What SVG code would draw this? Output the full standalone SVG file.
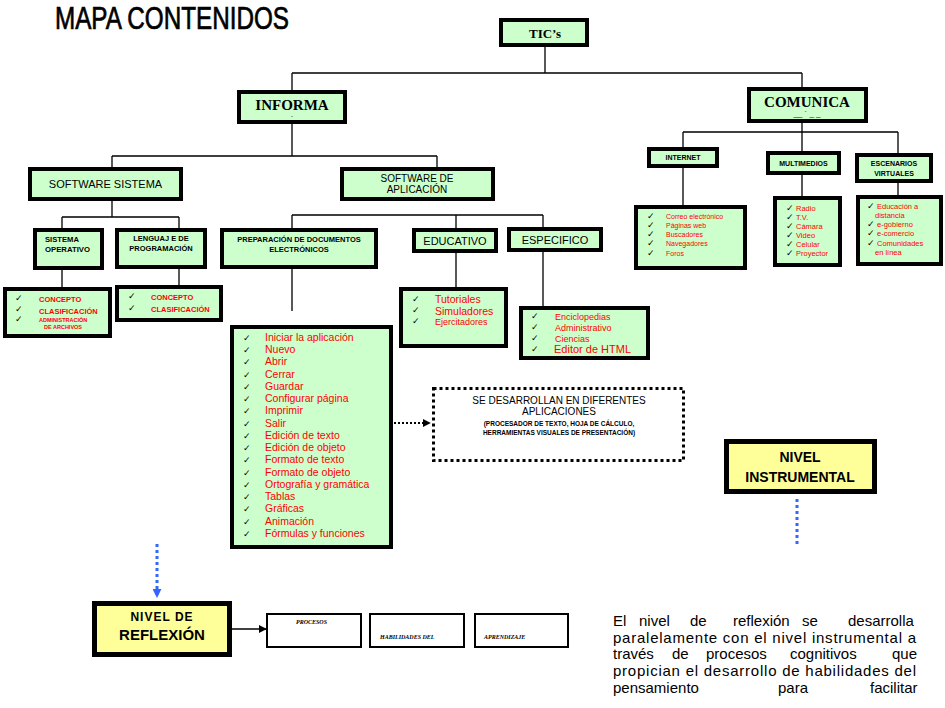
<svg xmlns="http://www.w3.org/2000/svg" width="945" height="708" viewBox="0 0 945 708">
<defs>
<style>
.box{fill:#ccffcc;stroke:#000;stroke-width:4}
.ybox{fill:#ffff99;stroke:#000;stroke-width:5}
.wbox{fill:#fff;stroke:#000;stroke-width:2}
.ln{stroke:#000;stroke-width:1.3;fill:none}
text{font-family:"Liberation Sans",Arial,sans-serif;fill:#000}
.serif{font-family:"Liberation Serif","Times New Roman",serif;font-weight:bold}
.b{font-weight:bold}
.red{fill:#ff0000}
.c{text-anchor:middle}
.chk{font-family:"DejaVu Sans",sans-serif;font-size:9px}
</style>
<marker id="ah" viewBox="0 0 10 10" refX="9" refY="5" markerWidth="8" markerHeight="8" markerUnits="userSpaceOnUse" orient="auto"><path d="M0,0 L10,5 L0,10 z" fill="#000"/></marker>
<marker id="ahb" viewBox="0 0 10 10" refX="9" refY="5" markerWidth="9" markerHeight="9" markerUnits="userSpaceOnUse" orient="auto"><path d="M0,0 L10,5 L0,10 z" fill="#3366ff"/></marker>
</defs>
<rect width="945" height="708" fill="#fff"/>

<text x="55" y="29" font-size="31" textLength="234" lengthAdjust="spacingAndGlyphs" stroke="#000" stroke-width="0.7">MAPA CONTENIDOS</text>

<g id="connectors">
<path class="ln" d="M545 47V73M292 73H802M292 73V90M802 73V87"/>
<path class="ln" d="M292 124V156M112 156H437M112 156V167M437 156V167"/>
<path class="ln" d="M112 201V217M62 217H179M62 217V228M179 217V228M62 270V287M179 269V285"/>
<path class="ln" d="M292 215H543M292 215V228M456 215V228M543 215V227M292 269V311M456 253V287M543 252V306"/>
<path class="ln" d="M802 123V132M683 132H898M683 132V147M802 132V151M898 132V153M683 168V205M802 175V196M898 183V195"/>
<path d="M394 423H430" stroke="#000" stroke-width="2" stroke-dasharray="2,2" fill="none" marker-end="url(#ah)"/>
<path d="M797 499V544" stroke="#3366ff" stroke-width="3" stroke-dasharray="3,3" fill="none"/>
<path d="M157 544V597" stroke="#3366ff" stroke-width="3" stroke-dasharray="3,3" fill="none" marker-end="url(#ahb)"/>
<path d="M232 629H266" stroke="#000" stroke-width="1.3" fill="none" marker-end="url(#ah)"/>
</g>

<g id="tics"><rect class="box" x="501" y="20" width="86" height="25"/><text class="serif c" x="545" y="38" font-size="13">TIC’s</text></g>

<g id="informa"><rect class="box" x="239" y="92" width="106" height="30"/><text class="serif c" x="292" y="110" font-size="15">INFORMA</text><text class="c" x="292" y="118" font-size="6">-</text></g>

<g id="comunica"><rect class="box" x="749" y="89" width="117" height="32"/><text class="serif c" x="807" y="107" font-size="15">COMUNICA</text><text class="c" x="807" y="116" font-size="8">__ ´ _ _</text></g>

<g id="software-sistema"><rect class="box" x="30" y="169" width="151" height="30"/><text class="c" x="105.5" y="188" font-size="11">SOFTWARE SISTEMA</text></g>

<g id="software-aplicacion"><rect class="box" x="342" y="169" width="151" height="30"/><text class="c" x="417" y="182" font-size="10">SOFTWARE DE</text><text class="c" x="417" y="193" font-size="10">APLICACIÓN</text></g>

<g id="sistema-operativo"><rect class="box" x="35" y="230" width="67" height="38"/><text class="b" x="45" y="242" font-size="7" textLength="34" lengthAdjust="spacingAndGlyphs">SISTEMA</text><text class="b" x="45" y="252" font-size="7" textLength="45" lengthAdjust="spacingAndGlyphs">OPERATIVO</text></g>

<g id="lenguaje"><rect class="box" x="117" y="230" width="88" height="37"/><text class="b c" x="161" y="241" font-size="7.5">LENGUAJ E DE</text><text class="b c" x="161" y="251" font-size="7.5">PROGRAMACIÓN</text></g>

<g id="so-lista"><rect class="box" x="5" y="289" width="105" height="47"/>
<text class="chk" x="15" y="301">✓</text><text class="chk" x="15" y="312">✓</text><text class="chk" x="15" y="322">✓</text>
<text class="b red" x="39" y="302" font-size="7.5">CONCEPTO</text>
<text class="b red" x="39" y="314" font-size="7.5">CLASIFICACIÓN</text>
<text class="b red" x="39" y="322" font-size="5.5">ADMINISTRACIÓN</text>
<text class="b red" x="44" y="329" font-size="5.5">DE ARCHIVOS</text></g>

<g id="lp-lista"><rect class="box" x="117" y="287" width="104" height="33"/>
<text class="chk" x="128" y="299">✓</text><text class="chk" x="128" y="311">✓</text>
<text class="b red" x="151" y="300" font-size="7.5">CONCEPTO</text>
<text class="b red" x="151" y="312" font-size="7.5">CLASIFICACIÓN</text></g>

<g id="preparacion"><rect class="box" x="222" y="230" width="154" height="37"/><text class="b c" x="299" y="242" font-size="7.5">PREPARACIÓN DE DOCUMENTOS</text><text class="b c" x="299" y="252" font-size="7.5">ELECTRÓNICOS</text></g>

<g id="educativo"><rect class="box" x="414" y="230" width="82" height="21"/><text class="c" x="455" y="245" font-size="11">EDUCATIVO</text></g>

<g id="especifico"><rect class="box" x="509" y="229" width="92" height="21"/><text class="c" x="555" y="244" font-size="11">ESPECIFICO</text></g>

<g id="edu-lista"><rect class="box" x="401" y="289" width="105" height="57"/>
<text class="chk" x="412" y="302">✓</text><text class="chk" x="412" y="313">✓</text><text class="chk" x="412" y="324">✓</text>
<text class="red" x="435" y="303" font-size="10.5">Tutoriales</text>
<text class="red" x="435" y="315" font-size="10.5">Simuladores</text>
<text class="red" x="435" y="325" font-size="9">Ejercitadores</text></g>

<g id="esp-lista"><rect class="box" x="521" y="308" width="127" height="50"/>
<text class="chk" x="531" y="319">✓</text><text class="chk" x="531" y="330">✓</text><text class="chk" x="531" y="341">✓</text><text class="chk" x="531" y="352">✓</text>
<text class="red" x="555" y="320" font-size="9">Enciclopedias</text>
<text class="red" x="555" y="331" font-size="9">Administrativo</text>
<text class="red" x="555" y="342" font-size="9">Ciencias</text>
<text class="red" x="554" y="353" font-size="11">Editor de HTML</text></g>

<g id="funciones"><rect class="box" x="232" y="327" width="159" height="220"/>
<g class="chk">
<text x="243" y="341">✓</text><text x="243" y="353">✓</text><text x="243" y="365">✓</text><text x="243" y="378">✓</text><text x="243" y="390">✓</text><text x="243" y="402">✓</text><text x="243" y="414">✓</text><text x="243" y="427">✓</text><text x="243" y="439">✓</text><text x="243" y="451">✓</text><text x="243" y="463">✓</text><text x="243" y="476">✓</text><text x="243" y="488">✓</text><text x="243" y="500">✓</text><text x="243" y="512">✓</text><text x="243" y="525">✓</text><text x="243" y="537">✓</text>
</g>
<g font-size="10.5">
<text x="265" y="341" class="red">Iniciar la aplicación</text>
<text x="265" y="353" class="red">Nuevo</text>
<text x="265" y="365" class="red">Abrir</text>
<text x="265" y="378" class="red">Cerrar</text>
<text x="265" y="390" class="red">Guardar</text>
<text x="265" y="402" class="red">Configurar página</text>
<text x="265" y="414" class="red">Imprimir</text>
<text x="265" y="427" class="red">Salir</text>
<text x="265" y="439" class="red">Edición de texto</text>
<text x="265" y="451" class="red">Edición de objeto</text>
<text x="265" y="463" class="red">Formato de texto</text>
<text x="265" y="476" class="red">Formato de objeto</text>
<text x="265" y="488" class="red">Ortografía y gramática</text>
<text x="265" y="500" class="red">Tablas</text>
<text x="265" y="512" class="red">Gráficas</text>
<text x="265" y="525" class="red">Animación</text>
<text x="265" y="537" class="red">Fórmulas y funciones</text>
</g></g>

<g id="aplicaciones"><rect x="433.5" y="388.5" width="250" height="72" fill="#fff" stroke="#000" stroke-width="3" stroke-dasharray="3,3"/>
<text class="c" x="559" y="404" font-size="10">SE DESARROLLAN  EN DIFERENTES</text>
<text class="c" x="559" y="415" font-size="10">APLICACIONES</text>
<text class="b c" x="559" y="426" font-size="6.5">(PROCESADOR DE TEXTO, HOJA DE CÁLCULO,</text>
<text class="b c" x="559" y="435" font-size="6.5">HERRAMIENTAS VISUALES DE PRESENTACIÓN)</text></g>

<g id="internet"><rect class="box" x="649" y="149" width="68" height="17"/><text class="b c" x="683" y="160" font-size="7">INTERNET</text></g>
<g id="multimedios"><rect class="box" x="768" y="153" width="71" height="20"/><text class="b c" x="803.5" y="166" font-size="7">MULTIMEDIOS</text></g>
<g id="escenarios"><rect class="box" x="857" y="155" width="74" height="26"/><text class="b c" x="894" y="166" font-size="7">ESCENARIOS</text><text class="b c" x="894" y="176" font-size="7">VIRTUALES</text></g>

<g id="internet-lista"><rect class="box" x="636" y="207" width="109" height="61"/>
<text class="chk" x="647" y="219" font-size="7">✓</text><text class="chk" x="647" y="228" font-size="7">✓</text><text class="chk" x="647" y="237" font-size="7">✓</text><text class="chk" x="647" y="246" font-size="7">✓</text><text class="chk" x="647" y="256" font-size="7">✓</text>
<text class="red" x="666" y="219" font-size="7">Correo electrónico</text>
<text class="red" x="666" y="228" font-size="7">Páginas web</text>
<text class="red" x="666" y="237" font-size="7">Buscadores</text>
<text class="red" x="666" y="246" font-size="7">Navegadores</text>
<text class="red" x="666" y="256" font-size="7">Foros</text></g>

<g id="multimedios-lista"><rect class="box" x="775" y="198" width="65" height="67"/>
<text class="chk" x="786" y="211" font-size="7">✓</text><text class="chk" x="786" y="220" font-size="7">✓</text><text class="chk" x="786" y="229" font-size="7">✓</text><text class="chk" x="786" y="238" font-size="7">✓</text><text class="chk" x="786" y="247" font-size="7">✓</text><text class="chk" x="786" y="256" font-size="7">✓</text>
<text class="red" x="796" y="211" font-size="7.5">Radio</text>
<text class="red" x="796" y="220" font-size="7.5">T.V.</text>
<text class="red" x="796" y="229" font-size="7.5">Cámara</text>
<text class="red" x="796" y="238" font-size="7.5">Video</text>
<text class="red" x="796" y="247" font-size="7.5">Celular</text>
<text class="red" x="796" y="256" font-size="7.5">Proyector</text></g>

<g id="escenarios-lista"><rect class="box" x="858" y="197" width="83" height="67"/>
<text class="chk" x="867" y="209" font-size="7">✓</text><text class="chk" x="867" y="227" font-size="7">✓</text><text class="chk" x="867" y="236" font-size="7">✓</text><text class="chk" x="867" y="246" font-size="7">✓</text>
<text class="red" x="877" y="209" font-size="7.5">Educación a</text>
<text class="red" x="875" y="218" font-size="7.5">distancia</text>
<text class="red" x="877" y="227" font-size="7.5">e-gobierno</text>
<text class="red" x="877" y="236" font-size="7.5">e-comercio</text>
<text class="red" x="877" y="246" font-size="7.5">Comunidades</text>
<text class="red" x="875" y="255" font-size="7.5">en línea</text></g>

<g id="nivel-instrumental"><rect class="ybox" x="726.5" y="441.5" width="148" height="50"/><text class="b c" x="800" y="462" font-size="14">NIVEL</text><text class="b c" x="800" y="482" font-size="14">INSTRUMENTAL</text></g>

<g id="nivel-reflexion"><rect class="ybox" x="94.5" y="603.5" width="135" height="51"/><text class="b c" x="162" y="621" font-size="12" letter-spacing="1">NIVEL DE</text><text class="b c" x="162" y="640" font-size="15">REFLEXIÓN</text></g>

<g id="procesos"><rect class="wbox" x="267" y="614" width="94" height="33"/><text class="serif" x="296" y="624" font-size="6" font-style="italic">PROCESOS</text></g>
<g id="habilidades"><rect class="wbox" x="370" y="614" width="94" height="33"/><text class="serif" x="380" y="639" font-size="6" font-style="italic">HABILIDADES DEL</text></g>
<g id="aprendizaje"><rect class="wbox" x="475" y="614" width="93" height="33"/><text class="serif" x="484" y="639" font-size="6" font-style="italic">APRENDIZAJE</text></g>

<g id="parrafo" font-size="15">
<text x="613" y="626">El</text><text x="639" y="626">nivel</text><text x="690" y="626">de</text><text x="733" y="626">reflexión</text><text x="802" y="626">se</text><text x="848" y="626">desarrolla</text>
<text x="613" y="643" textLength="303" lengthAdjust="spacing">paralelamente con el nivel instrumental a</text>
<text x="613" y="659">través</text><text x="672" y="659">de</text><text x="706" y="659">procesos</text><text x="790" y="659">cognitivos</text><text x="892" y="659">que</text>
<text x="613" y="676" textLength="303" lengthAdjust="spacing">propician el desarrollo de habilidades del</text>
<text x="613" y="693">pensamiento</text><text x="778" y="693">para</text><text x="870" y="693">facilitar</text>
</g>
</svg>
